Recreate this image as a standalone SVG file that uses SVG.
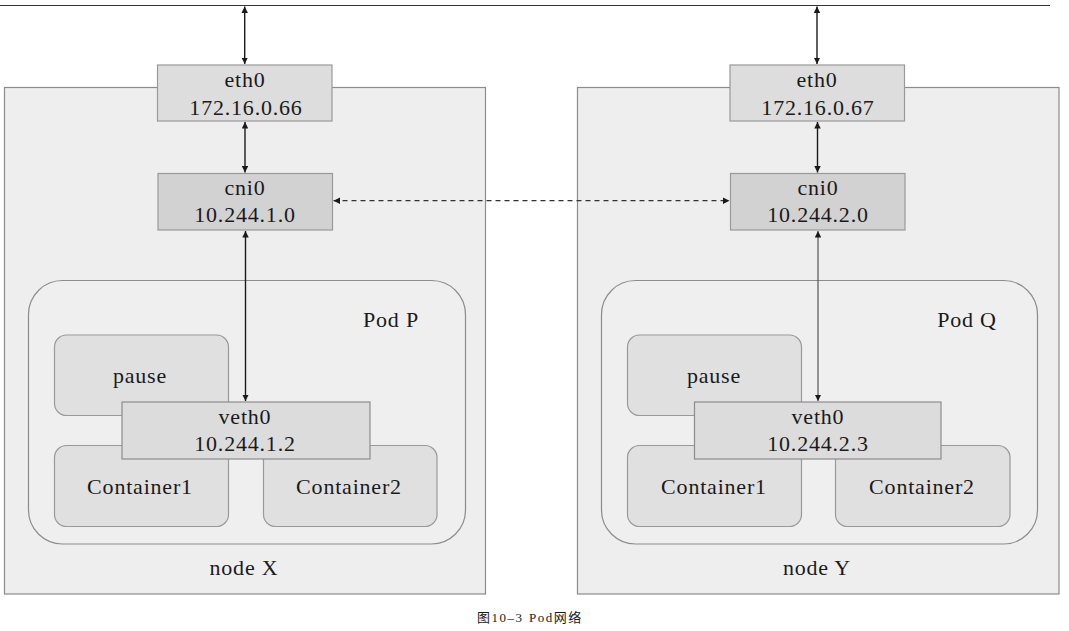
<svg xmlns="http://www.w3.org/2000/svg" width="1069" height="631" viewBox="0 0 1069 631">
<style>
text{font-family:"Liberation Serif","Times New Roman",serif;fill:#1a1a1a;text-anchor:middle}
.lbl{font-size:22px;letter-spacing:0.8px}
.node{fill:#eeeeee;stroke:#8c8c8c;stroke-width:1.2}
.pod{fill:#efefef;stroke:#8c8c8c;stroke-width:1.2}
.eth{fill:#dddddd;stroke:#999999;stroke-width:1.2}
.cni{fill:#d2d2d2;stroke:#999999;stroke-width:1.2}
.ctr{fill:#e0e0e0;stroke:#999999;stroke-width:1.2}
.veth{fill:#dcdcdc;stroke:#8c8c8c;stroke-width:1.2}
.ln{stroke:#1a1a1a;stroke-width:1.4;fill:none}
.dash{stroke:#333;stroke-width:1.2;stroke-dasharray:5 4;fill:none}
.cap{font-family:"Liberation Serif","Noto Sans CJK SC",serif;font-size:13px;letter-spacing:1.5px}
</style>
<defs>
<marker id="ah" viewBox="0 0 10 10" refX="10" refY="5" markerWidth="6.5" markerHeight="6.5" markerUnits="userSpaceOnUse" orient="auto-start-reverse">
<path d="M0,0 L10,5 L0,10 z" fill="#1a1a1a"/>
</marker>
</defs>
<rect width="1069" height="631" fill="#ffffff"/>
<line x1="0" y1="5.5" x2="1050" y2="5.5" stroke="#333" stroke-width="1.2"/>

<g id="nodeX">
<rect class="node" x="4.5" y="87.5" width="481" height="506.5"/>
<text class="lbl" x="244" y="575">node X</text>
</g>
<g id="nodeY">
<rect class="node" x="577.5" y="87.5" width="481.5" height="506.5"/>
<text class="lbl" x="817" y="575">node Y</text>
</g>

<g id="podP">
<rect class="pod" x="28.5" y="280.5" width="437" height="263.5" rx="34"/>
<text class="lbl" x="391" y="327">Pod P</text>
</g>
<g id="podQ">
<rect class="pod" x="601.5" y="280.5" width="436" height="263.5" rx="34"/>
<text class="lbl" x="967" y="327">Pod Q</text>
</g>

<g id="pauseP"><rect class="ctr" x="54.5" y="335" width="174" height="80.5" rx="12"/><text class="lbl" x="140" y="383">pause</text></g>
<g id="container1P"><rect class="ctr" x="54.5" y="445.5" width="174" height="81" rx="12"/><text class="lbl" x="140" y="494">Container1</text></g>
<g id="container2P"><rect class="ctr" x="263.5" y="445.5" width="173.5" height="81" rx="12"/><text class="lbl" x="349" y="494">Container2</text></g>
<g id="vethP"><rect class="veth" x="122" y="402" width="248" height="57"/><text class="lbl" x="245" y="424">veth0</text><text class="lbl" x="245" y="451">10.244.1.2</text></g>

<g id="pauseQ"><rect class="ctr" x="627.5" y="335" width="174" height="80.5" rx="12"/><text class="lbl" x="714" y="383">pause</text></g>
<g id="container1Q"><rect class="ctr" x="627.5" y="445.5" width="174" height="81" rx="12"/><text class="lbl" x="714" y="494">Container1</text></g>
<g id="container2Q"><rect class="ctr" x="835.5" y="445.5" width="174.5" height="81" rx="12"/><text class="lbl" x="922" y="494">Container2</text></g>
<g id="vethQ"><rect class="veth" x="694.5" y="402" width="246.5" height="57"/><text class="lbl" x="818" y="424">veth0</text><text class="lbl" x="818" y="451">10.244.2.3</text></g>

<g id="eth0X"><rect class="eth" x="157.5" y="65" width="174.5" height="56"/><text class="lbl" x="245" y="87">eth0</text><text class="lbl" x="246" y="115">172.16.0.66</text></g>
<g id="cni0X"><rect class="cni" x="158" y="173.5" width="174.5" height="56.5"/><text class="lbl" x="245" y="195">cni0</text><text class="lbl" x="245" y="222">10.244.1.0</text></g>
<g id="eth0Y"><rect class="eth" x="730" y="65" width="174.5" height="56"/><text class="lbl" x="817" y="87">eth0</text><text class="lbl" x="818" y="115">172.16.0.67</text></g>
<g id="cni0Y"><rect class="cni" x="730.5" y="173.5" width="174.5" height="56.5"/><text class="lbl" x="818" y="195">cni0</text><text class="lbl" x="818" y="222">10.244.2.0</text></g>

<g id="connectors">
<line class="ln" x1="244.7" y1="6.5" x2="244.7" y2="64" marker-start="url(#ah)" marker-end="url(#ah)"/>
<line class="ln" x1="245" y1="122" x2="245" y2="172.5" marker-start="url(#ah)" marker-end="url(#ah)"/>
<line class="ln" x1="245.5" y1="231" x2="245.5" y2="401" marker-start="url(#ah)" marker-end="url(#ah)"/>
<line class="ln" x1="817" y1="6.5" x2="817" y2="64" marker-start="url(#ah)" marker-end="url(#ah)"/>
<line class="ln" x1="817.5" y1="122" x2="817.5" y2="172.5" marker-start="url(#ah)" marker-end="url(#ah)"/>
<line class="ln" x1="818" y1="231" x2="818" y2="401" marker-start="url(#ah)" marker-end="url(#ah)" style="stroke:#555;stroke-width:1.2"/>
<line class="dash" x1="333.5" y1="200.7" x2="729.5" y2="200.7" marker-start="url(#ah)" marker-end="url(#ah)"/>
</g>

<text class="cap" x="477" y="622" style="text-anchor:start">图10–3<tspan x="529">Pod网络</tspan></text>
</svg>
